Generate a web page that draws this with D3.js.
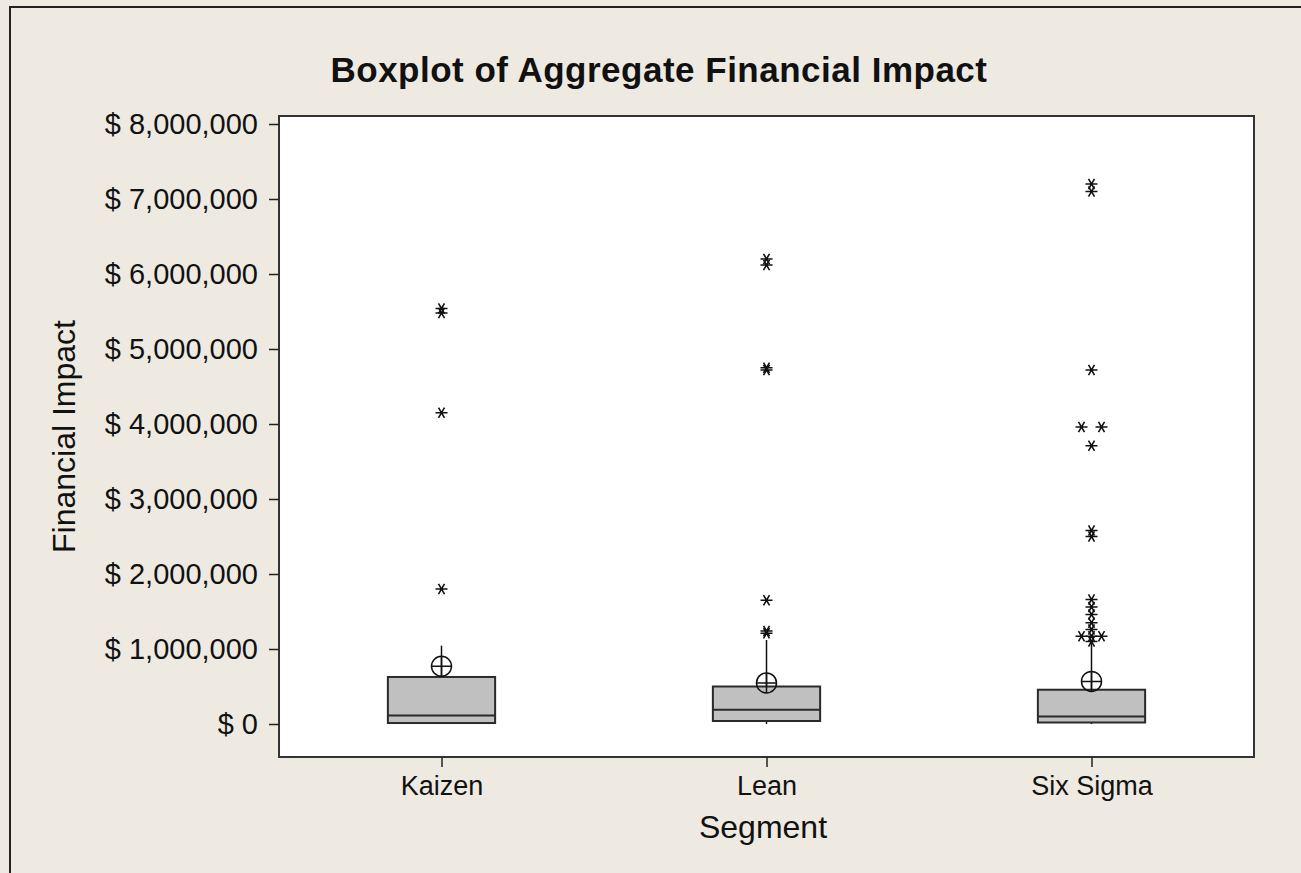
<!DOCTYPE html>
<html lang="en">
<head>
<meta charset="utf-8">
<title>Boxplot of Aggregate Financial Impact</title>
<script src="https://cdn.jsdelivr.net/npm/d3@7"></script>
<style>
  body { margin: 0; background: #eeeae1; }
  text { font-family: "Liberation Sans", Arial, sans-serif; fill: #111; }
</style>
</head>
<body>
<script>
// segments and box summaries (values in dollars)
var segments   = ["Kaizen", "Lean", "Six Sigma"];
var q1         = [13000, 40000, 20000];
var medians    = [115000, 190000, 100000];
var q3         = [627000, 500000, 457000];
var whiskerLo  = [0, 0, 0];
var whiskerHi  = [1045000, 1120000, 1080000];
var means      = [770000, 547000, 568000];
var outliers   = [
  [1800000, 4150000, 5480000, 5540000],
  [1210000, 1240000, 1650000, 4720000, 4750000, 6120000, 6200000],
  [1100000, 1170000, 1170000, 1170000, 1260000, 1350000, 1460000, 1560000, 1660000,
   2500000, 2580000, 3710000, 3960000, 3960000, 4720000, 7100000, 7200000]
];
var yTicks = [0, 1000000, 2000000, 3000000, 4000000, 5000000, 6000000, 7000000, 8000000];

var W = 1301, H = 873;
var plot = { left: 279, right: 1254, top: 116, bottom: 757 };

var svg = d3.select("body").append("svg")
  .attr("width", W).attr("height", H);

// window border (left and top only visible)
svg.append("path")
  .attr("d", "M10,873 L10,7 L1301,7")
  .attr("fill", "none").attr("stroke", "#222").attr("stroke-width", 2);

var x = d3.scalePoint().domain(segments).range([plot.left, plot.right]).padding(0.5);
var y = d3.scaleLinear().domain([0, 8000000]).range([724, 124]);

svg.append("rect")
  .attr("x", plot.left).attr("y", plot.top)
  .attr("width", plot.right - plot.left).attr("height", plot.bottom - plot.top)
  .attr("fill", "#fff").attr("stroke", "#333").attr("stroke-width", 2);

// y axis
var fmt = function(d) { return "$ " + d3.format(",")(d); };
var yAxis = svg.append("g")
  .attr("transform", "translate(" + plot.left + ",0)")
  .call(d3.axisLeft(y).tickValues(yTicks).tickFormat(fmt).tickSize(10).tickPadding(11));
yAxis.select(".domain").remove();
yAxis.selectAll("text").attr("font-size", 29).attr("font-family", null).attr("fill", "#111");
yAxis.selectAll("line").attr("stroke", "#222").attr("stroke-width", 1.5);

// x axis
var xAxis = svg.append("g")
  .attr("transform", "translate(0," + plot.bottom + ")")
  .call(d3.axisBottom(x).tickSize(10).tickPadding(9));
xAxis.select(".domain").remove();
xAxis.selectAll("text").attr("font-size", 27).attr("font-family", null).attr("fill", "#111");
xAxis.selectAll("line").attr("stroke", "#222").attr("stroke-width", 1.5);

// titles
svg.append("text")
  .attr("x", 659).attr("y", 82)
  .attr("text-anchor", "middle")
  .attr("font-size", 35).attr("font-weight", "bold")
  .attr("letter-spacing", 0.5)
  .text("Boxplot of Aggregate Financial Impact");

svg.append("text")
  .attr("x", 763).attr("y", 838)
  .attr("text-anchor", "middle")
  .attr("font-size", 32)
  .text("Segment");

svg.append("text")
  .attr("transform", "translate(75," + (plot.top + plot.bottom) / 2 + ") rotate(-90)")
  .attr("text-anchor", "middle")
  .attr("font-size", 32)
  .text("Financial Impact");

// boxes
var bw = x.step() * 0.33;
var rows = segments.map(function(s, i) {
  return { seg: s, q1: q1[i], med: medians[i], q3: q3[i], lo: whiskerLo[i], hi: whiskerHi[i], mean: means[i], out: outliers[i] };
});

var g = svg.selectAll("g.box").data(rows).enter().append("g").attr("class", "box");

g.append("line")
  .attr("x1", function(d) { return x(d.seg); }).attr("x2", function(d) { return x(d.seg); })
  .attr("y1", function(d) { return y(d.q3); }).attr("y2", function(d) { return y(d.hi); })
  .attr("stroke", "#111").attr("stroke-width", 1.5);
g.append("line")
  .attr("x1", function(d) { return x(d.seg); }).attr("x2", function(d) { return x(d.seg); })
  .attr("y1", function(d) { return y(d.q1); }).attr("y2", function(d) { return y(d.lo); })
  .attr("stroke", "#111").attr("stroke-width", 1.5);

g.append("rect")
  .attr("x", function(d) { return x(d.seg) - bw / 2; })
  .attr("y", function(d) { return y(d.q3); })
  .attr("width", bw)
  .attr("height", function(d) { return y(d.q1) - y(d.q3); })
  .attr("fill", "#c0c0c0").attr("stroke", "#2a2a2a").attr("stroke-width", 2);

g.append("line")
  .attr("x1", function(d) { return x(d.seg) - bw / 2; }).attr("x2", function(d) { return x(d.seg) + bw / 2; })
  .attr("y1", function(d) { return y(d.med); }).attr("y2", function(d) { return y(d.med); })
  .attr("stroke", "#2a2a2a").attr("stroke-width", 2);

// mean symbol: circle with cross
var r = 10;
var mean = g.append("g")
  .attr("transform", function(d) { return "translate(" + x(d.seg) + "," + y(d.mean) + ")"; })
  .attr("fill", "none").attr("stroke", "#111").attr("stroke-width", 1.5);
mean.append("circle").attr("r", r);
mean.append("path").attr("d", "M" + (-r) + ",0H" + r + "M0," + (-r) + "V" + r);

// outliers: identical values are spread sideways
var star = "M-6,0H6M-3,-5.2L3,5.2M3,-5.2L-3,5.2";
g.each(function(d) {
  var groups = d3.groups(d.out, function(v) { return v; });
  var pts = [];
  groups.forEach(function(gr) {
    var n = gr[1].length;
    gr[1].forEach(function(v, k) {
      var off;
      if (n % 2 === 1) off = (k === 0 ? 0 : (k % 2 ? -1 : 1) * Math.ceil(k / 2) * 10);
      else off = (k % 2 ? 1 : -1) * (Math.floor(k / 2) + 1) * 10;
      pts.push({ v: v, off: off });
    });
  });
  d3.select(this).selectAll("path.out").data(pts).enter().append("path")
    .attr("class", "out")
    .attr("d", star)
    .attr("transform", function(p) { return "translate(" + (x(d.seg) + p.off) + "," + y(p.v) + ")"; })
    .attr("fill", "none").attr("stroke", "#111").attr("stroke-width", 1.6);
});
</script>
</body>
</html>
